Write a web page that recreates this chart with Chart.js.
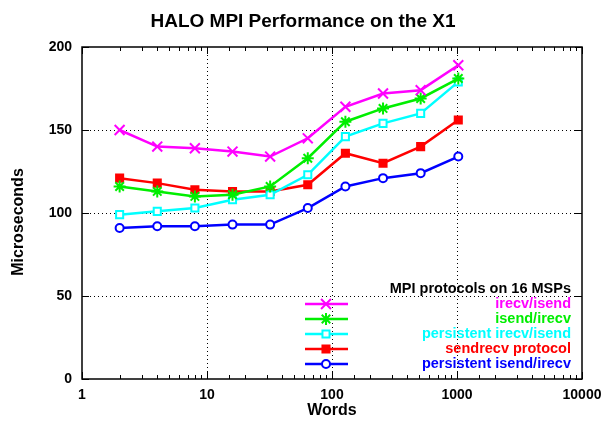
<!DOCTYPE html>
<html>
<head>
<meta charset="utf-8">
<script src="https://cdn.jsdelivr.net/npm/chart.js"></script>
<style>
  body { margin: 0; background: #fff; }
  #wrap { width: 604px; height: 421px; }
</style>
</head>
<body>
<div id="wrap"><canvas id="haloChart" width="604" height="421"></canvas></div>
<script>
    const words = [2, 4, 8, 16, 32, 64, 128, 256, 512, 1024];
    const irecvIsend = [150, 140, 139, 137, 134, 145, 164, 172, 174, 189];
    const isendIrecv = [116, 113, 110, 111, 116, 133, 155, 163, 169, 181];
    const persistentIrecvIsend = [99, 101, 103, 108, 111, 123, 146, 154, 160, 179];
    const sendrecvProtocol = [121, 118, 114, 113, 113, 117, 136, 130, 140, 156];
    const persistentIsendIrecv = [91, 92, 92, 93, 93, 103, 116, 121, 124, 134];
    const xMajorTicks = [1, 10, 100, 1000, 10000];
    const yTicks = [0, 50, 100, 150, 200];

    const FONT = '"Liberation Sans", Arial, sans-serif';

    function series(label, values, color, style, fill, radius) {
        return {
            label: label,
            data: words.map((w, i) => ({ x: w, y: values[i] })),
            borderColor: color,
            backgroundColor: fill,
            pointBorderColor: color,
            pointBackgroundColor: fill,
            pointStyle: style,
            pointRadius: radius,
            pointBorderWidth: 2,
            borderWidth: 2.5,
            tension: 0
        };
    }

    const datasets = [
        series('irecv/isend', irecvIsend, '#ff00ff', 'crossRot', '#ff00ff', 7),
        series('isend/irecv', isendIrecv, '#00ee00', 'star', '#00ee00', 6),
        series('persistent irecv/isend', persistentIrecvIsend, '#00ffff', 'rect', '#ffffff', 5),
        series('sendrecv protocol', sendrecvProtocol, '#ff0000', 'rect', '#ff0000', 5),
        series('persistent isend/irecv', persistentIsendIrecv, '#0000ff', 'circle', '#ffffff', 4)
    ];

    // frame, inward tick marks, titles and the in-plot legend
    const decorations = {
        id: 'decorations',
        afterDatasetsDraw(chart) {
            const c = chart.ctx;
            const a = chart.chartArea;
            const xs = chart.scales.x, ys = chart.scales.y;
            c.save();
            c.strokeStyle = '#000';
            c.lineWidth = 1.5;
            c.strokeRect(a.left, a.top, a.right - a.left, a.bottom - a.top);

            c.lineWidth = 1;
            c.beginPath();
            xs.ticks.forEach(t => {
                const px = Math.round(xs.getPixelForValue(t.value)) + 0.5;
                const len = xMajorTicks.includes(t.value) ? 7 : 4;
                c.moveTo(px, a.bottom); c.lineTo(px, a.bottom - len);
                c.moveTo(px, a.top); c.lineTo(px, a.top + len);
            });
            yTicks.forEach(v => {
                const py = Math.round(ys.getPixelForValue(v)) + 0.5;
                c.moveTo(a.left, py); c.lineTo(a.left + 7, py);
                c.moveTo(a.right, py); c.lineTo(a.right - 7, py);
            });
            c.stroke();

            c.fillStyle = '#000';
            c.textAlign = 'center';
            c.textBaseline = 'middle';
            c.font = 'bold 19px ' + FONT;
            c.fillText('HALO MPI Performance on the X1', 303, 22);
            c.font = 'bold 16px ' + FONT;
            c.fillText('Words', 332, 411);
            c.save();
            c.translate(19, 222);
            c.rotate(-Math.PI / 2);
            c.fillText('Microseconds', 0, 0);
            c.restore();

            c.font = 'bold 14.5px ' + FONT;
            c.textAlign = 'right';
            c.fillText('MPI protocols on 16 MSPs', 571, 289);
            chart.data.datasets.forEach((ds, i) => {
                const y = 304 + 15 * i;
                c.strokeStyle = ds.borderColor;
                c.lineWidth = 2.5;
                c.beginPath();
                c.moveTo(305, y); c.lineTo(348, y);
                c.stroke();
                c.fillStyle = ds.pointBackgroundColor;
                c.lineWidth = 2;
                Chart.helpers.drawPoint(c, { pointStyle: ds.pointStyle, radius: ds.pointRadius, borderWidth: 2, rotation: 0 }, 326, y);
                c.fillStyle = ds.borderColor;
                c.fillText(ds.label, 571, y);
            });
            c.restore();
        }
    };

    new Chart(document.getElementById('haloChart'), {
        type: 'line',
        data: { datasets: datasets },
        plugins: [decorations],
        options: {
            responsive: false,
            animation: false,
            layout: { padding: { top: 47, right: 22, left: 0, bottom: 0 } },
            plugins: { legend: { display: false }, title: { display: false }, tooltip: { enabled: false } },
            scales: {
                x: {
                    type: 'logarithmic',
                    min: 1,
                    max: 10000,
                    afterFit: s => { s.height = 42; s.paddingLeft = 0; s.paddingRight = 0; },
                    border: { display: false, dash: [1, 3] },
                    grid: {
                        drawTicks: false,
                        color: ctx => [10, 100, 1000].includes(ctx.tick && ctx.tick.value) ? '#000' : 'rgba(0,0,0,0)',
                        lineWidth: 1
                    },
                    ticks: {
                        autoSkip: false,
                        maxRotation: 0,
                        padding: 8,
                        color: '#000',
                        font: { family: FONT, size: 14, weight: 'bold' },
                        callback: v => xMajorTicks.includes(v) ? String(v) : ''
                    }
                },
                y: {
                    min: 0,
                    max: 200,
                    afterFit: s => { s.width = 82; s.paddingTop = 0; s.paddingBottom = 0; },
                    border: { display: false, dash: [1, 3] },
                    grid: {
                        drawTicks: false,
                        color: ctx => [50, 100, 150].includes(ctx.tick && ctx.tick.value) ? '#000' : 'rgba(0,0,0,0)',
                        lineWidth: 1
                    },
                    ticks: {
                        stepSize: 50,
                        padding: 10,
                        color: '#000',
                        font: { family: FONT, size: 14, weight: 'bold' }
                    }
                }
            }
        }
    });
</script>
</body>
</html>
